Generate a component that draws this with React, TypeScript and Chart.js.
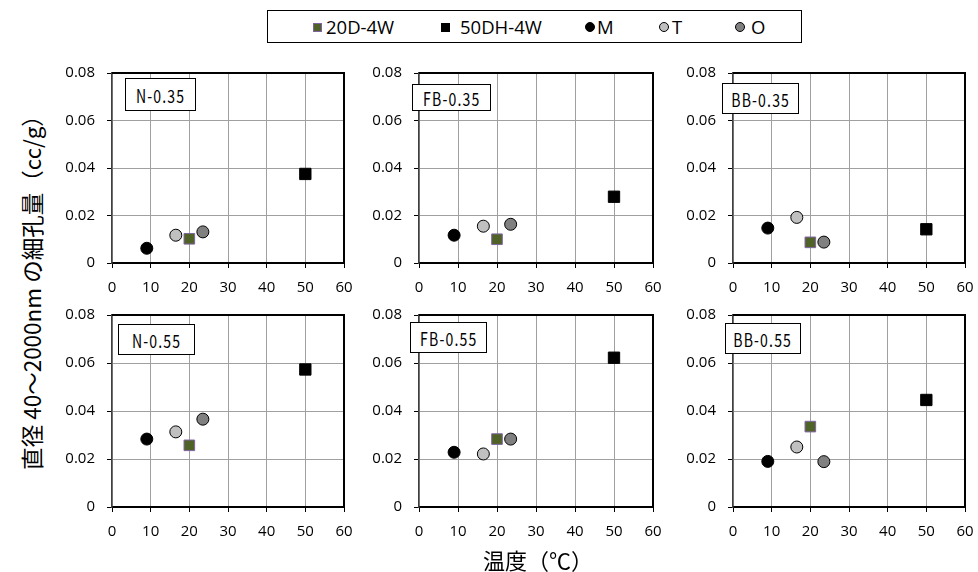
import React, { useEffect, useRef } from 'react';
import { Chart, registerables } from 'chart.js';

Chart.register(...registerables);

// ---- data ----
const seriesNames = ['20D-4W', '50DH-4W', 'M', 'T', 'O'];
const seriesTemps = [20, 50, 9, 16.5, 23.5];
const panelLabels = ['N-0.35', 'FB-0.35', 'BB-0.35', 'N-0.55', 'FB-0.55', 'BB-0.55'];
const pore20D = [0.0102, 0.0100, 0.0087, 0.0257, 0.0283, 0.0335];
const pore50DH = [0.0375, 0.0279, 0.0142, 0.0573, 0.0622, 0.0446];
const poreM = [0.0062, 0.0117, 0.0147, 0.0283, 0.0228, 0.0190];
const poreT = [0.0117, 0.0155, 0.0192, 0.0313, 0.0221, 0.0250];
const poreO = [0.0131, 0.0163, 0.0088, 0.0366, 0.0283, 0.0189];
const xTickValues = [0, 10, 20, 30, 40, 50, 60];
const yTickValues = [0, 0.02, 0.04, 0.06, 0.08];
const xTitle = '温度（℃）';
const yTitle = '直径 40〜2000nm の細孔量（cc/g）';

const seriesValues = [pore20D, pore50DH, poreM, poreT, poreO];

// ---- styles ----
const seriesStyles = [
  { bg: '#4f6228', border: '#8064a2', style: 'rect', radius: 7.5, bw: 1 },
  { bg: '#000000', border: '#000000', style: 'rect', radius: 8, bw: 1 },
  { bg: '#000000', border: '#000000', style: 'circle', radius: 6, bw: 1 },
  { bg: '#c0c0c0', border: '#000000', style: 'circle', radius: 6, bw: 1 },
  { bg: '#808080', border: '#000000', style: 'circle', radius: 6, bw: 1 },
];

const colLefts = [112, 419, 733];
const colWidths = [232, 234, 232];
const rowTops = [73, 315];
const rowHeights = [190, 192];
const labelBoxes = [
  { l: 125, t: 78, w: 71, h: 33 },
  { l: 412, t: 84, w: 79, h: 27 },
  { l: 722, t: 83, w: 77, h: 31 },
  { l: 118, t: 324, w: 77, h: 31 },
  { l: 410, t: 322, w: 77, h: 31 },
  { l: 725, t: 323, w: 76, h: 31 },
];

const Y_AXIS_W = 60;
const PAD_TOP = 30;
const PAD_RIGHT = 30;
const X_AXIS_H = 40;
const TICK_FONT = { family: '"Open Sans", "Liberation Sans", sans-serif', size: 15 };

const framePlugin = {
  id: 'frame',
  beforeDatasetsDraw(chart: any) {
    const { ctx, chartArea: a } = chart;
    ctx.save();
    ctx.strokeStyle = '#000';
    ctx.lineWidth = 2;
    ctx.beginPath();
    ctx.moveTo(a.left, a.top);
    ctx.lineTo(a.right, a.top);
    ctx.lineTo(a.right, a.bottom);
    ctx.stroke();
    ctx.restore();
  },
};

function Panel({ idx }: { idx: number }) {
  const ref = useRef<HTMLCanvasElement>(null);
  const col = idx % 3;
  const row = Math.floor(idx / 3);
  const plotL = colLefts[col];
  const plotT = rowTops[row];
  const cw = Y_AXIS_W + colWidths[col] + PAD_RIGHT;
  const ch = PAD_TOP + rowHeights[row] + X_AXIS_H;

  useEffect(() => {
    const datasets = seriesNames.map((name, s) => ({
      label: name,
      data: [{ x: seriesTemps[s], y: seriesValues[s][idx] }],
      backgroundColor: seriesStyles[s].bg,
      borderColor: seriesStyles[s].border,
      borderWidth: seriesStyles[s].bw,
      pointStyle: seriesStyles[s].style as any,
      pointRadius: seriesStyles[s].radius,
      pointHoverRadius: seriesStyles[s].radius,
      showLine: false,
    }));
    const chart = new Chart(ref.current!, {
      type: 'scatter',
      data: { datasets },
      plugins: [framePlugin],
      options: {
        animation: false,
        responsive: false,
        devicePixelRatio: 1,
        events: [],
        layout: { padding: { top: PAD_TOP, right: PAD_RIGHT, left: 0, bottom: 0 } },
        plugins: { legend: { display: false }, tooltip: { enabled: false } },
        scales: {
          x: {
            type: 'linear',
            min: xTickValues[0],
            max: xTickValues[xTickValues.length - 1],
            afterBuildTicks: (scale: any) => {
              scale.ticks = xTickValues.map((v) => ({ value: v }));
            },
            afterFit: (scale: any) => {
              scale.height = X_AXIS_H;
            },
            ticks: { color: '#000', font: TICK_FONT, padding: 11, maxRotation: 0 },
            grid: { color: '#a0a0a0', lineWidth: 1, tickColor: '#000', tickLength: 5 },
            border: { color: '#000', width: 2 },
          },
          y: {
            type: 'linear',
            min: yTickValues[0],
            max: yTickValues[yTickValues.length - 1],
            afterBuildTicks: (scale: any) => {
              scale.ticks = yTickValues.map((v) => ({ value: v }));
            },
            afterFit: (scale: any) => {
              scale.width = Y_AXIS_W;
            },
            ticks: {
              color: '#000',
              font: TICK_FONT,
              padding: 12,
              callback: (v: any) => (Number(v) === 0 ? '0' : Number(v).toFixed(2)),
            },
            grid: { color: '#a0a0a0', lineWidth: 1, tickColor: '#000', tickLength: 5 },
            border: { color: '#404040', width: 1.5 },
          },
        },
      } as any,
    });
    return () => chart.destroy();
  }, [idx]);

  const box = labelBoxes[idx];
  return (
    <>
      <canvas
        ref={ref}
        width={cw}
        height={ch}
        style={{ position: 'absolute', left: plotL - Y_AXIS_W, top: plotT - PAD_TOP, width: cw, height: ch }}
      />
      <div
        style={{
          position: 'absolute',
          left: box.l,
          top: box.t,
          width: box.w,
          height: box.h,
          boxSizing: 'border-box',
          border: '1px solid #000',
          background: '#fff',
          display: 'flex',
          alignItems: 'center',
          justifyContent: 'center',
        }}
      >
        <span
          style={{
            fontFamily: '"Noto Sans CJK JP", sans-serif',
            fontWeight: 400,
            fontSize: 18,
            letterSpacing: 1.5,
            display: 'inline-block',
            transform: 'scaleX(0.78)',
            color: '#000',
            whiteSpace: 'nowrap',
          }}
        >
          {panelLabels[idx]}
        </span>
      </div>
    </>
  );
}

const legendPos = [
  { m: 312, t: 325 },
  { m: 440, t: 459 },
  { m: 584, t: 596 },
  { m: 658, t: 671 },
  { m: 734, t: 750 },
];

function Legend() {
  return (
    <div
      style={{
        position: 'absolute',
        left: 267,
        top: 10,
        width: 535,
        height: 33,
        boxSizing: 'border-box',
        border: '1px solid #000',
        background: '#fff',
      }}
    >
      {seriesNames.map((name, s) => {
        const st = seriesStyles[s];
        const isRect = st.style === 'rect';
        const size = isRect ? 9 : 10;
        return (
          <React.Fragment key={name}>
            <div
              style={{
                position: 'absolute',
                left: legendPos[s].m - 267,
                top: 16 - size / 2,
                width: size,
                height: size,
                boxSizing: 'border-box',
                background: st.bg,
                border: `1px solid ${st.border}`,
                borderRadius: isRect ? 0 : '50%',
              }}
            />
            <div
              style={{
                position: 'absolute',
                left: legendPos[s].t - 267,
                top: 4,
                lineHeight: '24px',
                fontFamily: '"Open Sans", sans-serif',
                fontSize: 18.5,
                color: '#000',
                whiteSpace: 'nowrap',
              }}
            >
              {name}
            </div>
          </React.Fragment>
        );
      })}
    </div>
  );
}

export default function App() {
  return (
    <div
      style={{
        position: 'absolute',
        left: 0,
        top: 0,
        width: 978,
        height: 572,
        background: '#fff',
        overflow: 'hidden',
      }}
    >
      <Legend />
      {panelLabels.map((_, i) => (
        <Panel key={i} idx={i} />
      ))}
      <div
        style={{
          position: 'absolute',
          left: 31,
          top: 287,
          transform: 'translate(-50%, -50%) rotate(-90deg)',
          fontFamily: '"Noto Sans CJK JP", sans-serif',
          fontSize: 22.5,
          lineHeight: 1,
          whiteSpace: 'nowrap',
          color: '#000',
        }}
      >
        {yTitle}
      </div>
      <div
        style={{
          position: 'absolute',
          left: 538,
          top: 559,
          transform: 'translate(-50%, -50%)',
          fontFamily: '"Noto Sans CJK JP", sans-serif',
          fontSize: 22,
          lineHeight: 1,
          whiteSpace: 'nowrap',
          color: '#000',
        }}
      >
        {xTitle}
      </div>
    </div>
  );
}
